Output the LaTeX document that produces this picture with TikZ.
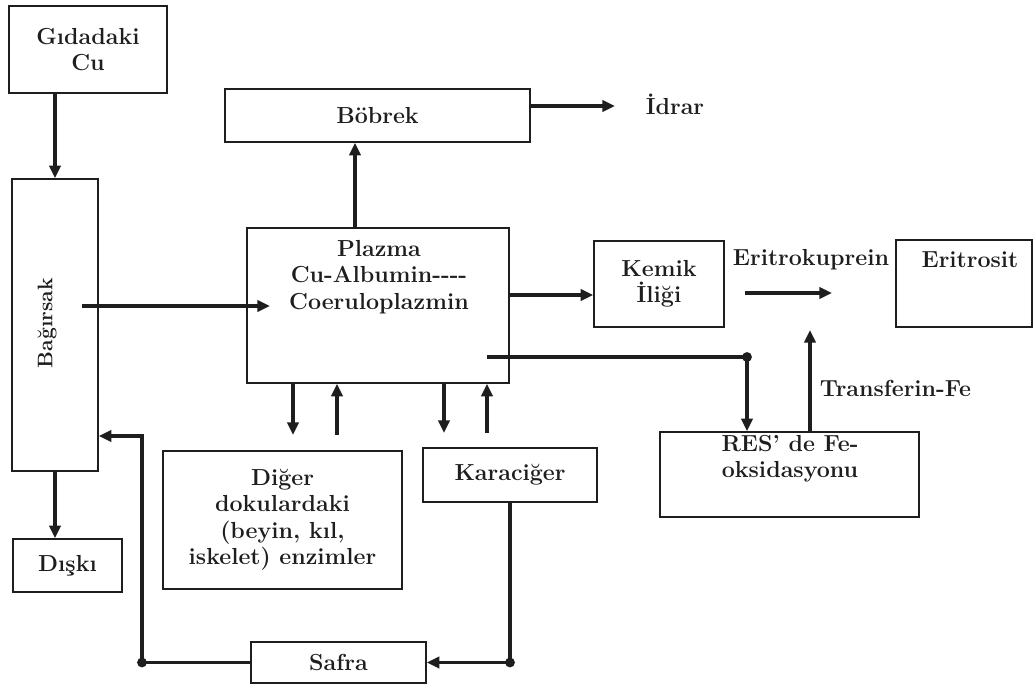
\documentclass[tikz,border=0pt]{standalone}
\usetikzlibrary{arrows.meta, positioning, calc}
\definecolor{cink}{HTML}{1E1E1E}
\newcommand\boxfont{\fontsize{16.5}{18.8}\selectfont\bfseries}
\tikzset{
  every picture/.style={line width=1.1pt, color=cink},
  box/.style 2 args={draw=cink, line width=1.1pt, rectangle, align=center, inner sep=2pt, minimum width=#1*0.025cm, minimum height=#2*0.025cm, font=\boxfont, text=cink},
  txt/.style={font=\boxfont, text=cink, align=center, inner sep=0pt},
  arr/.style={-{Triangle[length=9pt, width=8pt]}, draw=cink, line width=2.4pt},
  link/.style={draw=cink, line width=2.4pt},
  dot/.style={circle, fill=cink, inner sep=0pt, minimum size=7pt},
}

\begin{document}
\begin{tikzpicture}[x=0.025cm, y=-0.025cm]
  \useasboundingbox (0,0) rectangle (1035,688);
  % left column
  \node[box={158}{87}] (gida) at (88,49.5) {Gıdadaki\\Cu};
  \node[box={86}{292}] (bag) at (55,325) {};
  \node[txt, rotate=90, font=\fontsize{15}{17}\selectfont\bfseries] (bagtxt) at (47,323) {Bağırsak};
  \node[box={109}{53}] (diski) at (67.5,565.5) {Dışkı};
  % plasma and kidney
  \node[box={305}{53}] (bob) at (377.5,115.5) {Böbrek};
  \node[txt] (idrar) at (675,104) {İdrar};
  \node[box={262}{155}] (plazma) at (378,305.5) {};
  \node[txt] (plazmatxt) at (379,277) {Plazma\\Cu-Albumin-{}-{}-{}-\\Coeruloplazmin};
  % right part
  \node[box={130}{86}] (kemik) at (659,284) {Kemik\\İliği};
  \node[txt] (eritk) at (811,260) {Eritrokuprein};
  \node[box={136}{87}] (erit) at (964,283.5) {};
  \node[txt] (erittxt) at (970,260) {Eritrosit};
  \node[box={259}{85}] (res) at (789.5,474.5) {};
  \node[txt] (restxt) at (790,459) {RES’ de Fe-\\oksidasyonu};
  \node[txt, anchor=west] (transf) at (819,388) {Transferin-Fe};
  % lower row
  \node[box={174}{54}] (karac) at (510,475) {Karaciğer};
  \node[box={239}{138}] (diger) at (282.5,520) {Diğer\\dokulardaki\\(beyin, kıl,\\iskelet) enzimler};
  \node[box={175}{41}] (safra) at (338.5,662.5) {Safra};

  % free ends
  \coordinate (bagout) at (82,306);
  \coordinate (plazin) at (270,306);
  \coordinate (idr) at (615,106);
  \coordinate (ek1) at (745,293);
  \coordinate (ek2) at (832,293);
  \coordinate (tf) at (810,330);
  \coordinate (pr) at (487,357);
  \coordinate (bret) at (142,436);

  % connectors
  \draw[arr] (bag.north |- gida.south) -- (bag.north);
  \draw[arr] (bag.south) -- (bag.south |- diski.north);
  \draw[arr] (bagout) -- (plazin);
  \draw[arr] (plazma.north -| 355,0) -- (bob.south -| 355,0);
  \draw[arr] (bob.east |- idr) -- (idr);
  \draw[arr] (plazma.east |- 0,295) -- (kemik.west |- 0,295);
  \draw[arr] (ek1) -- (ek2);
  \draw[arr] (res.north -| tf) -- (tf);
  \node[dot] (d3) at (747,357) {};
  \draw[link] (pr) -- (d3.center);
  \draw[arr] (d3.center) -- (res.north -| d3);
  \draw[arr] (plazma.south -| 293,0) -- (293,435);
  \draw[arr] (337,435) -- (plazma.south -| 337,0);
  \draw[arr] (plazma.south -| 444,0) -- (444,433);
  \draw[arr] (487,433) -- (plazma.south -| 487,0);
  % bile loop
  \node[dot] (d1) at (karac.south |- safra.east) {};
  \draw[link] (karac.south) -- (d1.center);
  \draw[arr] (d1.center) -- (safra.east);
  \node[dot] (d2) at (safra.west -| bret) {};
  \draw[link] (safra.west) -- (d2.center);
  \draw[arr] (d2.center) -- (bret) -- (bag.east |- bret);
\end{tikzpicture}
\end{document}
